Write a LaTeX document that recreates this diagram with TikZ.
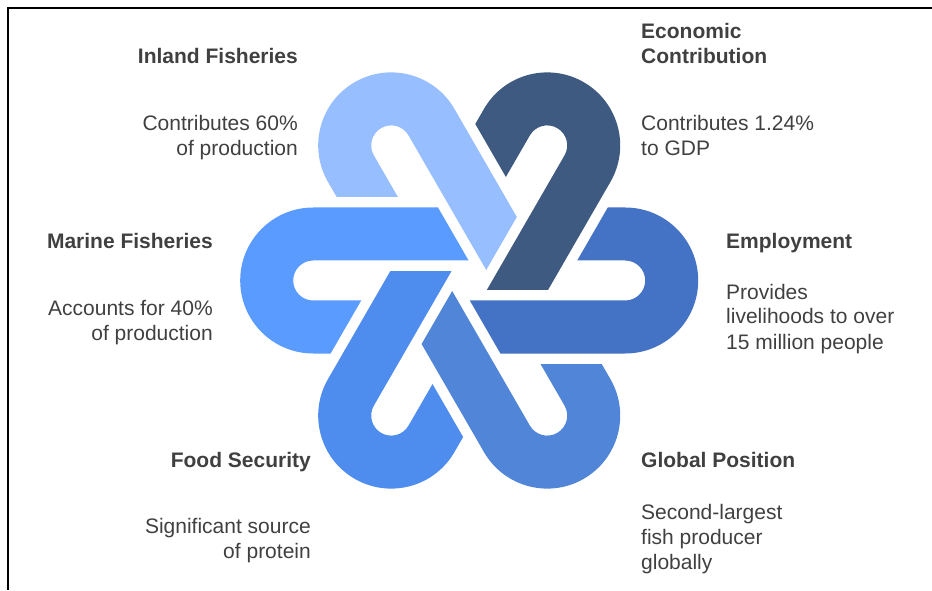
\documentclass[tikz,border=0pt]{standalone}
\usepackage{fontspec}
\setmainfont{Liberation Sans}
\definecolor{inlandblue}{HTML}{97BEFF}
\definecolor{econblue}{HTML}{3F5A80}
\definecolor{employblue}{HTML}{4472C4}
\definecolor{globalblue}{HTML}{5085D8}
\definecolor{foodblue}{HTML}{4E8CED}
\definecolor{marineblue}{HTML}{5A9BFF}
\definecolor{textgray}{HTML}{404040}
\begin{document}
\begin{tikzpicture}[x=1pt, y=1pt,
        title/.style={font=\fontsize{21}{25}\selectfont\bfseries, text=textgray, inner sep=0pt},
        body/.style={font=\fontsize{21}{25}\selectfont, text=textgray, inner sep=0pt}]
        \useasboundingbox (0, 0) rectangle (932, 590);
        \draw[line width=2pt] (8, 0) -- (8, 582) -- (932, 582);
        \coordinate (C) at (469.2, 309.5);
        % six loops, one every 60 degrees
        \foreach \ang/\col in {0/employblue, 60/econblue, 120/inlandblue, 180/marineblue, 240/foodblue, 300/globalblue}
            \fill[\col, shift={(C)}, rotate=\ang] (138.6, 73) -- (156, 73) arc[start angle=90, end angle=-90, radius=73]
                -- (31.2, -73) -- (0.6, -20) -- (156, -20) arc[start angle=-90, end angle=90, radius=20] -- (108, 20) -- cycle;
        % labels (base anchor = baseline of the last line)
        \node[title, anchor=base west, align=left] (econT) at (641, 526) {Economic\\Contribution};
        \node[body, anchor=base west, align=left] (econB) at (641, 434.5) {Contributes 1.24\%\\to GDP};
        \node[title, anchor=base east] (inlandT) at (298, 526) {Inland Fisheries};
        \node[body, anchor=base east, align=right] (inlandB) at (298, 434.5) {Contributes 60\%\\of production};
        \node[title, anchor=base east] (marineT) at (213, 341.7) {Marine Fisheries};
        \node[body, anchor=base east, align=right] (marineB) at (213, 250) {Accounts for 40\%\\of production};
        \node[title, anchor=base west] (employT) at (726, 341.7) {Employment};
        \node[body, anchor=base west, align=left] (employB) at (726, 241) {Provides\\livelihoods to over\\15 million people};
        \node[title, anchor=base east] (foodT) at (311, 122.7) {Food Security};
        \node[body, anchor=base east, align=right] (foodB) at (311, 32) {Significant source\\of protein};
        \node[title, anchor=base west] (globalT) at (641, 122.7) {Global Position};
        \node[body, anchor=base west, align=left] (globalB) at (641, 21) {Second-largest\\fish producer\\globally};
    \end{tikzpicture}
\end{document}
